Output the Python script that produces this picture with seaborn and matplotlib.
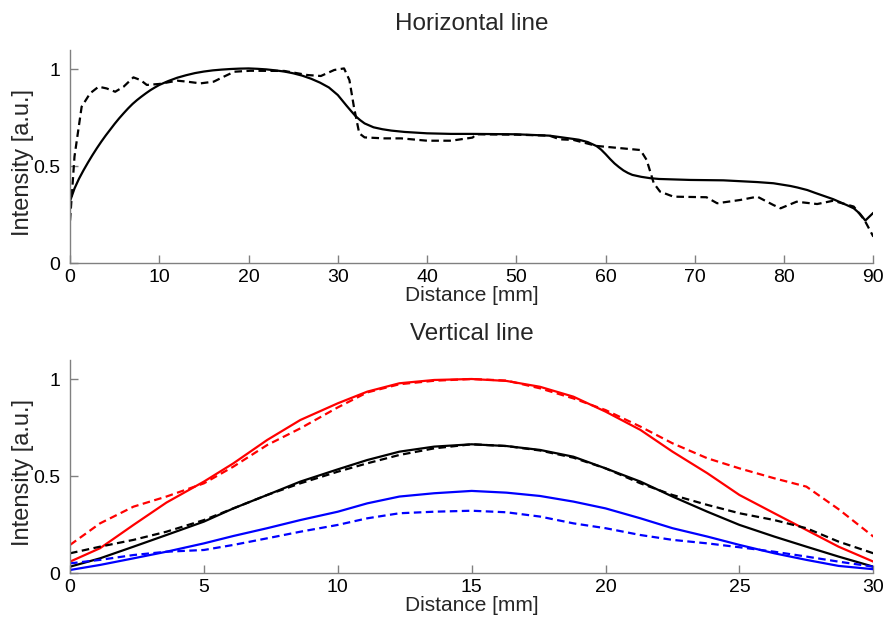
import matplotlib
matplotlib.use("Agg")
import matplotlib.pyplot as plt
import seaborn as sns
import pandas as pd

# ---------------- Data: Horizontal line ----------------
h_solid_x = [0, 0.5, 1, 1.5, 2, 2.5, 3, 3.5, 4, 4.5, 5, 5.5, 6, 6.5, 7, 7.5, 8, 8.5, 9, 9.5,
             10, 11, 12, 13, 14, 15, 16, 17, 18, 19, 20, 21, 22, 23, 24, 25, 26, 27, 28, 29,
             30, 30.5, 31, 31.5, 32, 32.5, 33, 34, 35, 36, 37.5, 40, 42.7, 45.1, 50.0, 53.7,
             56.4, 57, 58, 59, 59.5, 60, 60.5, 61, 61.5, 62, 62.5, 63, 64, 65, 66, 69.5, 73.2,
             77.0, 78.8, 80.7, 81.5, 82.6, 83.5, 84.5, 85.5, 86.3, 87, 87.8, 88.5, 89.1, 90.0]
h_solid_y = [0.32, 0.385, 0.435, 0.478, 0.518, 0.556, 0.592, 0.626, 0.658, 0.688, 0.718, 0.746,
             0.772, 0.797, 0.82, 0.84, 0.858, 0.875, 0.891, 0.905, 0.918, 0.938, 0.955, 0.968,
             0.979, 0.987, 0.993, 0.997, 1.0, 1.002, 1.003, 1.001, 0.998, 0.993, 0.987, 0.978,
             0.966, 0.95, 0.93, 0.905, 0.866, 0.838, 0.81, 0.783, 0.757, 0.737, 0.72, 0.70,
             0.69, 0.683, 0.676, 0.669, 0.666, 0.666, 0.664, 0.657, 0.64, 0.636, 0.624, 0.603,
             0.585, 0.562, 0.537, 0.514, 0.495, 0.478, 0.465, 0.455, 0.445, 0.438, 0.434, 0.429,
             0.427, 0.418, 0.412, 0.398, 0.39, 0.377, 0.362, 0.346, 0.33, 0.314, 0.30, 0.283,
             0.255, 0.22, 0.26]

h_dash_x = [0, 0.5, 1.3, 2.25, 3.2, 4.1, 5.06, 6.0, 7.1, 7.9, 8.6, 10.0, 12.0, 13.1, 14.6, 16.1,
            17.2, 18.4, 20.2, 24.0, 26.6, 28.1, 29.6, 30.7, 31.3, 31.8, 32.4, 33.0, 35.2, 37.1,
            40.0, 42.7, 45.1, 45.5, 50.0, 53.7, 54.9, 56.4, 59.0, 63.9, 64.6, 65.4, 66.1, 67.6,
            71.3, 72.5, 75.1, 77.0, 78.8, 79.6, 81.4, 83.7, 85.5, 87.8, 89.0, 90.0]
h_dash_y = [0.22, 0.55, 0.806, 0.875, 0.909, 0.90, 0.883, 0.909, 0.957, 0.943, 0.918, 0.923,
            0.94, 0.935, 0.926, 0.935, 0.96, 0.986, 0.991, 0.99, 0.969, 0.964, 0.995, 1.003,
            0.943, 0.806, 0.669, 0.648, 0.643, 0.643, 0.631, 0.631, 0.647, 0.664, 0.662, 0.657,
            0.638, 0.635, 0.604, 0.583, 0.532, 0.412, 0.369, 0.343, 0.34, 0.309, 0.326, 0.343,
            0.30, 0.283, 0.317, 0.305, 0.322, 0.292, 0.223, 0.137]

# ---------------- Data: Vertical line ----------------
v_x = [0, 1.12, 2.37, 3.6, 5.0, 6.1, 7.36, 8.6, 10.0, 11.1, 12.3, 13.6, 15.0, 16.3, 17.55,
       18.8, 20.0, 21.3, 22.5, 23.8, 25.0, 26.3, 27.5, 28.7, 30.0]
red_solid = [0.06, 0.129, 0.249, 0.364, 0.472, 0.566, 0.686, 0.789, 0.875, 0.935, 0.978, 0.995,
             1.0, 0.99, 0.96, 0.909, 0.832, 0.738, 0.626, 0.515, 0.403, 0.309, 0.223, 0.137, 0.06]
red_dash = [0.146, 0.257, 0.343, 0.395, 0.463, 0.549, 0.66, 0.746, 0.854, 0.931, 0.973, 0.991,
            1.0, 0.992, 0.952, 0.90, 0.84, 0.755, 0.669, 0.592, 0.54, 0.489, 0.446, 0.33, 0.189]
black_solid = [0.034, 0.077, 0.137, 0.197, 0.266, 0.334, 0.403, 0.472, 0.535, 0.583, 0.626,
               0.652, 0.664, 0.655, 0.635, 0.60, 0.54, 0.472, 0.395, 0.317, 0.249, 0.189,
               0.137, 0.086, 0.034]
black_dash = [0.103, 0.137, 0.172, 0.214, 0.274, 0.334, 0.403, 0.463, 0.523, 0.566, 0.609,
              0.643, 0.664, 0.655, 0.632, 0.595, 0.54, 0.463, 0.403, 0.352, 0.309, 0.274,
              0.232, 0.163, 0.103]
blue_solid = [0.017, 0.043, 0.077, 0.111, 0.154, 0.192, 0.232, 0.274, 0.317, 0.36, 0.395,
              0.412, 0.424, 0.415, 0.398, 0.369, 0.334, 0.283, 0.232, 0.189, 0.146, 0.103,
              0.069, 0.038, 0.021]
blue_dash = [0.051, 0.069, 0.094, 0.111, 0.12, 0.146, 0.18, 0.214, 0.249, 0.283, 0.309, 0.317,
             0.322, 0.314, 0.292, 0.257, 0.232, 0.197, 0.172, 0.154, 0.134, 0.111, 0.086,
             0.06, 0.034]

sns.set_style("ticks")
plt.rcParams['font.family'] = ['Liberation Sans', 'DejaVu Sans']

fig = plt.figure(figsize=(8.9, 6.26), dpi=100)
ax1 = fig.add_axes([0.0787, 0.5794, 0.9026, 0.3414])
ax2 = fig.add_axes([0.0787, 0.0842, 0.9026, 0.3414])

LW = 1.6
DASH = (3.4, 2.0)

df_hs = pd.DataFrame({"x": h_solid_x, "y": h_solid_y})
df_hd = pd.DataFrame({"x": h_dash_x, "y": h_dash_y})
sns.lineplot(data=df_hs, x="x", y="y", ax=ax1, color="black", lw=LW, sort=False, estimator=None)
sns.lineplot(data=df_hd, x="x", y="y", ax=ax1, color="black", lw=LW, sort=False,
             estimator=None, linestyle=(0, DASH))

series = [(red_solid, "red", False), (red_dash, "red", True),
          (black_solid, "black", False), (black_dash, "black", True),
          (blue_solid, "blue", False), (blue_dash, "blue", True)]
for vals, col, dashed in series:
    d = pd.DataFrame({"x": v_x, "y": vals})
    if dashed:
        sns.lineplot(data=d, x="x", y="y", ax=ax2, color=col, lw=LW, estimator=None,
                     linestyle=(0, DASH))
    else:
        sns.lineplot(data=d, x="x", y="y", ax=ax2, color=col, lw=LW, estimator=None)

spine_col = "#808080"
for ax, xmax, xt, title in [(ax1, 90, list(range(0, 91, 10)), "Horizontal line"),
                            (ax2, 30, list(range(0, 31, 5)), "Vertical line")]:
    ax.set_xlim(0, xmax)
    ax.set_ylim(0, 1.1)
    ax.set_xticks(xt)
    ax.set_xticklabels([str(t) for t in xt])
    ax.set_yticks([0, 0.5, 1])
    ax.set_yticklabels(["0", "0.5", "1"])
    for s in ["top", "right"]:
        ax.spines[s].set_visible(False)
    for s in ["left", "bottom"]:
        ax.spines[s].set_color(spine_col)
        ax.spines[s].set_linewidth(1.0)
    ax.tick_params(axis="both", direction="in", length=5.5, width=1.0, color=spine_col,
                   labelsize=14, labelcolor="black")
    ax.tick_params(axis="x", pad=4)
    ax.tick_params(axis="y", pad=7)
    ax.set_xlabel("Distance [mm]", fontsize=15, labelpad=0)
    ax.set_ylabel("Intensity [a.u.]", fontsize=17)
    ax.yaxis.set_label_coords(-0.045, 0.47)
    ax.set_title(title, fontsize=17.5, pad=14)
    ax.patch.set_visible(False)

fig.savefig("out.png", dpi=100)
